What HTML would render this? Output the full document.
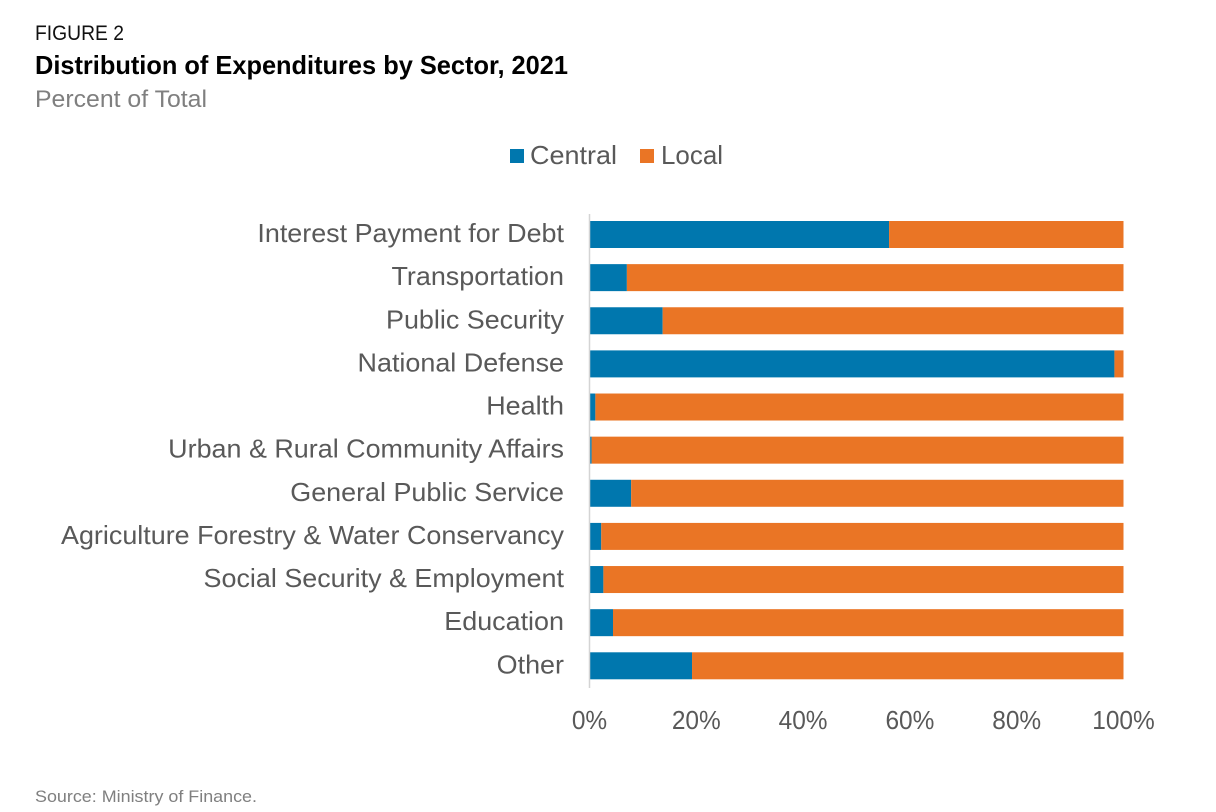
<!DOCTYPE html>
<html>
<head>
<meta charset="utf-8">
<style>
html,body{margin:0;padding:0;background:#fff}
svg{display:block}
text{font-family:"Liberation Sans",sans-serif}
.lab{font-size:26px;fill:#595959}
</style>
</head>
<body>
<svg id="chart" width="1216" height="812" viewBox="0 0 1216 812" xmlns="http://www.w3.org/2000/svg">
<rect width="1216" height="812" fill="#fff"/>
<text x="35" y="40" font-size="21" fill="#111" textLength="89" lengthAdjust="spacingAndGlyphs">FIGURE 2</text>
<text x="35" y="74" font-size="26" font-weight="700" fill="#000" textLength="533" lengthAdjust="spacingAndGlyphs">Distribution of Expenditures by Sector, 2021</text>
<text x="35" y="107" font-size="24" fill="#7f7f7f" textLength="172" lengthAdjust="spacingAndGlyphs">Percent of Total</text>
<rect x="510" y="149" width="14" height="14" fill="#0077ae"/>
<text x="530" y="164" class="lab" textLength="87" lengthAdjust="spacingAndGlyphs">Central</text>
<rect x="640" y="149" width="14" height="14" fill="#ea7525"/>
<text x="661" y="164" class="lab" textLength="62" lengthAdjust="spacingAndGlyphs">Local</text>
<text x="35" y="802" font-size="17" fill="#7f7f7f" textLength="222" lengthAdjust="spacingAndGlyphs">Source: Ministry of Finance.</text>
<g id="plot"></g>
</svg>
<script>
const categories = ["Interest Payment for Debt","Transportation","Public Security","National Defense","Health","Urban & Rural Community Affairs","General Public Service","Agriculture Forestry & Water Conservancy","Social Security & Employment","Education","Other"];
const centralValues = [56.1,7.0,13.7,98.3,1.1,0.4,7.8,2.2,2.6,4.4,19.2];
const localValues = [43.9,93.0,86.3,1.7,98.9,99.6,92.2,97.8,97.4,95.6,80.8];
const tickValues = [0,20,40,60,80,100];

const NS = "http://www.w3.org/2000/svg";
const plot = document.getElementById("plot");
const xScale = v => 589.5 + v * 5.34;
const bandTop = i => 221 + i * 43.13;
const barHeight = 27;

function make(tag, attrs, parent) {
  const el = document.createElementNS(NS, tag);
  for (const k in attrs) el.setAttribute(k, attrs[k]);
  parent.appendChild(el);
  return el;
}

function stretch(el, factor) {
  el.setAttribute("textLength", el.getComputedTextLength() * factor);
  el.setAttribute("lengthAdjust", "spacingAndGlyphs");
}

categories.forEach((name, i) => {
  const y = bandTop(i);
  const c = make("rect", {x: xScale(0), y: y, width: xScale(centralValues[i]) - xScale(0), height: barHeight, fill: "#0077ae"}, plot);
  
  
  const l = make("rect", {x: xScale(centralValues[i]), y: y, width: xScale(centralValues[i] + localValues[i]) - xScale(centralValues[i]), height: barHeight, fill: "#ea7525"}, plot);
  
  
  const t = make("text", {x: 564, y: y + 21, "text-anchor": "end", "class": "lab"}, plot);
  
  
  t.textContent = name;
  stretch(t, 1.035);
});

const axis = make("line", {x1: xScale(0), x2: xScale(0), y1: 214, y2: 688, stroke: "#d4d4d4", "stroke-width": 1.5}, plot);



tickValues.forEach(v => {
  const t = make("text", {x: xScale(v), y: 729, "text-anchor": "middle", "class": "lab"}, plot);
  
  
  t.textContent = v + "%";
  stretch(t, 0.94);
});
</script>
</body>
</html>
